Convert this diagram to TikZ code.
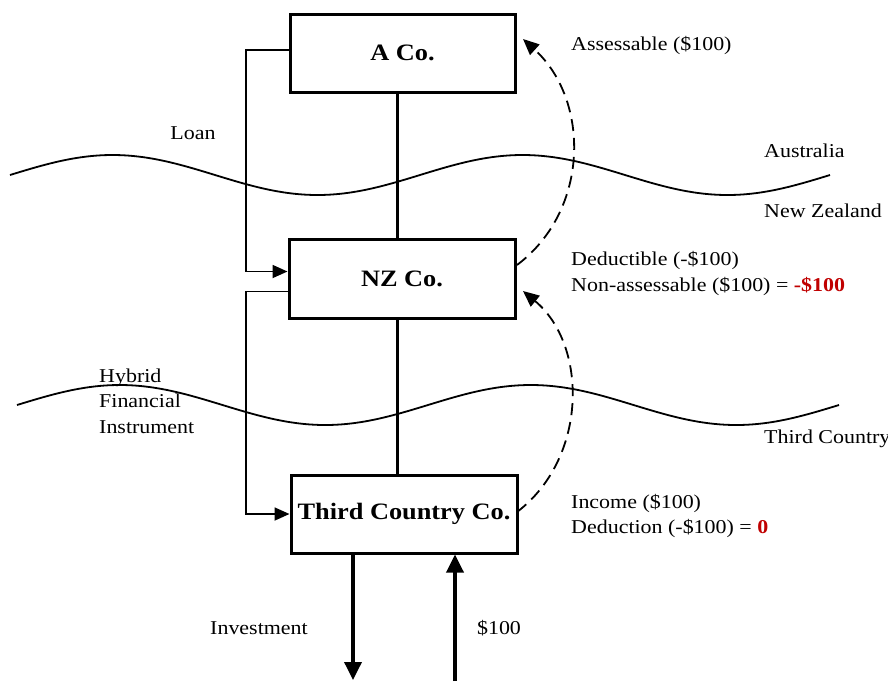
\documentclass[tikz,border=0pt]{standalone}
\usepackage{fontspec}
\setmainfont[FakeStretch=1.12]{Liberation Serif}
\usetikzlibrary{arrows.meta,calc}
\definecolor{accentred}{RGB}{192,0,0}
\begin{document}
\begin{tikzpicture}[x=1pt,y=-1pt,
  company/.style={draw, line width=3pt, minimum width=225pt, minimum height=78pt, inner sep=0pt,
    font=\fontsize{23.5}{28}\selectfont\bfseries},
  lbl/.style={font=\fontsize{19.6}{25.5}\selectfont, inner sep=0pt, align=left},
  thinline/.style={line width=1.8pt},
  boxarrow/.style={thinline, -{Triangle[length=15pt,width=13pt]}},
  flowarrow/.style={line width=3.5pt, -{Triangle[length=18pt,width=17pt]}},
  dasharrow/.style={line width=1.8pt, dash pattern=on 12pt off 7pt, -{Triangle[length=16pt,width=14pt]}},
  spine/.style={line width=3pt},
  border/.style={line width=1.8pt}
]
\useasboundingbox (0,0) rectangle (888,681);

% borders
\draw[border] plot[domain=10:830, samples=200, smooth] (\x, {175 - 20*sin((\x-10)/410*360)});
\draw[border] plot[domain=17:839, samples=200, smooth] (\x, {405 - 20*sin((\x-17)/411*360)});

% boxes
\node[company] (a) at (402.5,53) {A Co.};
\node[company, minimum width=226pt, minimum height=79pt] (nz) at (402,278.5) {NZ Co.};
\node[company, minimum width=226pt] (tc) at (404,514) {Third Country Co.};

% spine
\coordinate (sx) at (397,0);
\draw[spine] (a.south -| sx) -- (nz.north -| sx);
\draw[spine] (nz.south -| sx) -- (tc.north -| sx);

% left brackets
\coordinate (lx) at (246,0);
\coordinate (aout) at ($(a.west)+(0,-3)$);
\coordinate (nzin) at ($(nz.west)+(0,-7)$);
\coordinate (nzout) at ($(nz.west)+(0,13)$);
\draw[boxarrow] (aout) -- (aout -| lx) -- (nzin -| lx) -- (nzin);
\draw[boxarrow] (nzout) -- (nzout -| lx) -- (tc.west -| lx) -- (tc.west);

% dashed curves
\coordinate (nzr) at (517,265);
\coordinate (atip) at (523,39);
\draw[dasharrow] (nzr) .. controls (590,210) and (590,100) .. (atip);
\coordinate (tcr) at (517,512);
\coordinate (nztip) at (523,291);
\draw[dasharrow] (tcr) .. controls (588,458) and (588,345) .. (nztip);

% bottom flows
\coordinate (dnx) at (353,680);
\coordinate (upx) at (455,681);
\draw[flowarrow] (tc.south -| dnx) -- (dnx);
\draw[flowarrow] (upx) -- (tc.south -| upx);

% labels
\node[lbl] (loan) at (193,133) {Loan};
\node[lbl, anchor=west] (aus) at (764,151) {Australia};
\node[lbl, anchor=west] (nzl) at (764,211) {New Zealand};
\node[lbl, anchor=west] (tcl) at (764,439) {Third Country};
\node[lbl, anchor=west] (hyb) at (99,401) {Hybrid\\Financial\\Instrument};
\node[lbl, anchor=west] (ass) at (571,45) {Assessable (\$100)};
\node[lbl, anchor=west] (ded) at (571,273.5) {Deductible (-\$100)\\Non-assessable (\$100) = \textcolor{accentred}{\bfseries -\$100}};
\node[lbl, anchor=west] (inc) at (571,516) {Income (\$100)\\Deduction (-\$100) = \textcolor{accentred}{\bfseries 0}};
\node[lbl] (inv) at (259,628) {Investment};
\node[lbl] (amt) at (499,628) {\$100};
\end{tikzpicture}
\end{document}
